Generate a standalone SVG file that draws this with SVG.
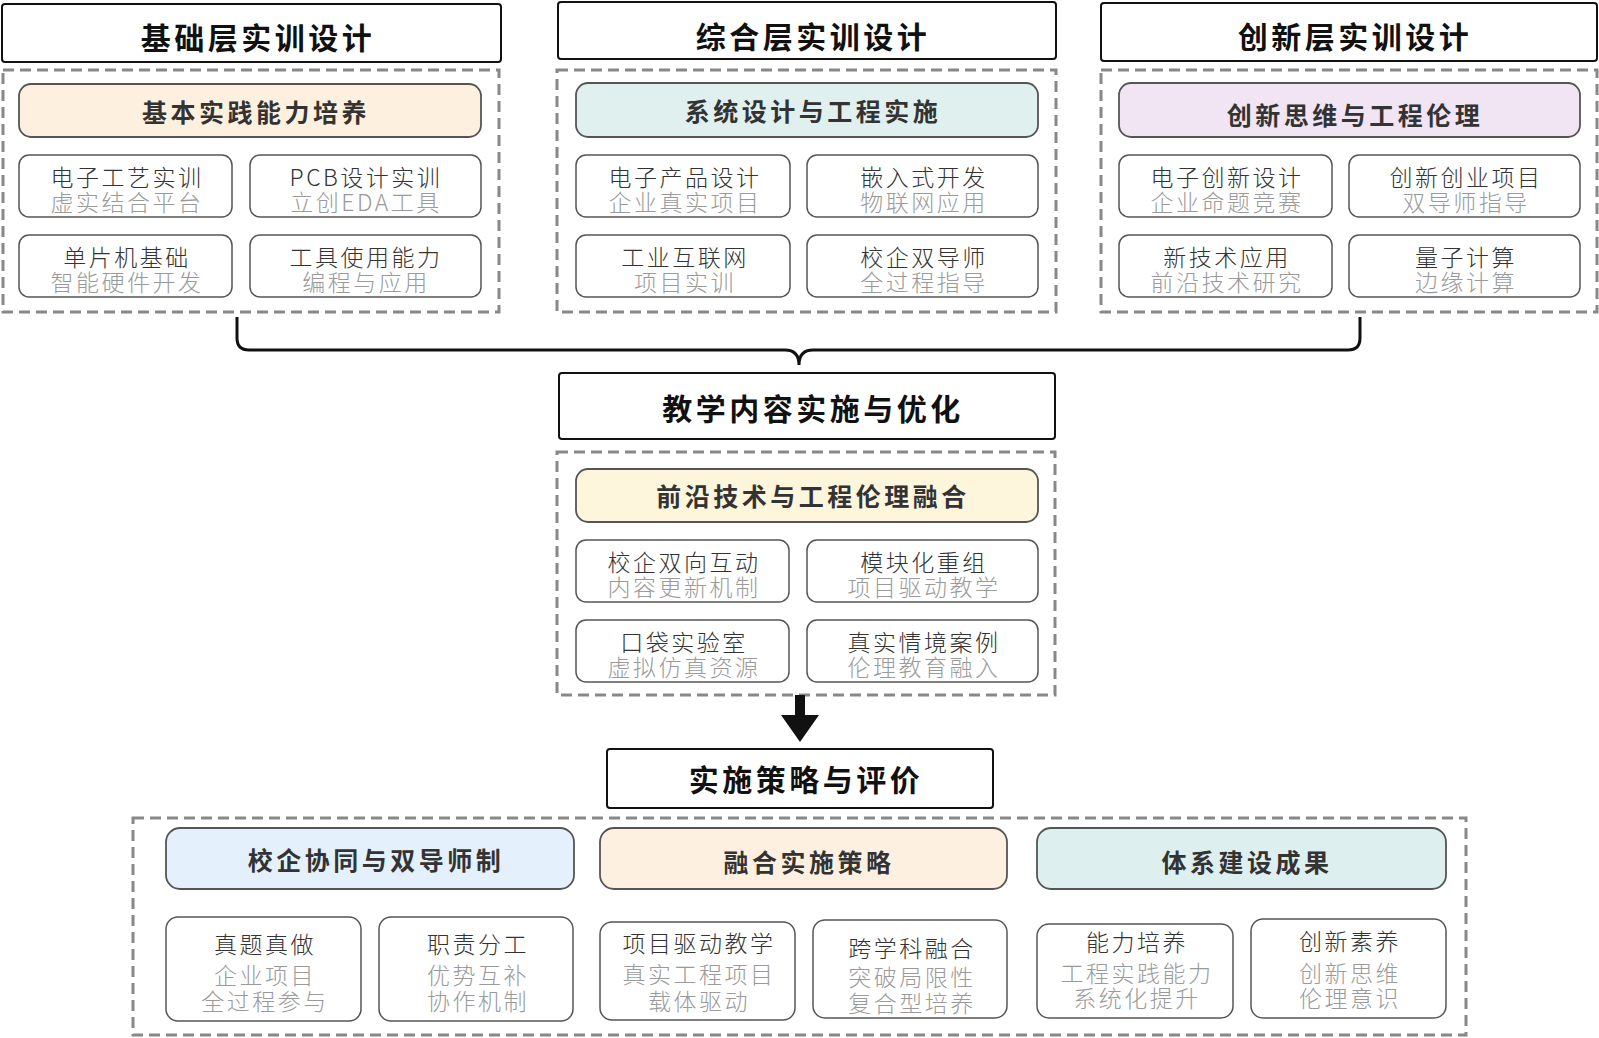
<svg xmlns="http://www.w3.org/2000/svg" width="1599" height="1038" viewBox="0 0 1599 1038">
<style>
text{font-family:"Noto Sans CJK SC","Noto Sans",sans-serif;text-anchor:middle}
.title{fill:#fff;stroke:#111;stroke-width:2}
.dash{fill:none;stroke:#888;stroke-width:3;stroke-dasharray:11 6}
.hdr{stroke:#555;stroke-width:1.8}
.sub{fill:#fff;stroke:#555;stroke-width:1.5}
.tt{font-weight:700;font-size:30px;letter-spacing:3.5px;fill:#111}
.ht{font-weight:700;font-size:25px;letter-spacing:3.5px;fill:#333}
.s1{font-weight:300;font-size:23px;letter-spacing:2.5px;fill:#333}
.s2{font-weight:300;font-size:23px;letter-spacing:2.5px;fill:#9a9a9a}
.conn{fill:none;stroke:#111;stroke-width:3}
</style>
<rect width="1599" height="1038" fill="#fff"/>

<!-- Top-left column -->
<g id="basic-title"><rect class="title" x="2" y="4" width="499" height="58" rx="3"/><text class="tt" x="258" y="49">基础层实训设计</text></g>
<g id="basic-group">
<rect class="dash" x="3" y="70" width="496" height="242"/>
<g id="basic-header"><rect class="hdr" x="19" y="84" width="462" height="53" rx="12" fill="#fdf0df"/><text class="ht" x="256" y="122">基本实践能力培养</text></g>
<g id="b1"><rect class="sub" x="19" y="155" width="213" height="62" rx="10"/><text class="s1" x="127" y="186">电子工艺实训</text><text class="s2" x="127" y="211">虚实结合平台</text></g>
<g id="b2"><rect class="sub" x="250" y="155" width="231" height="62" rx="10"/><text class="s1" x="366" y="186">PCB设计实训</text><text class="s2" x="366" y="211">立创EDA工具</text></g>
<g id="b3"><rect class="sub" x="19" y="235" width="213" height="62" rx="10"/><text class="s1" x="127" y="266">单片机基础</text><text class="s2" x="127" y="291">智能硬件开发</text></g>
<g id="b4"><rect class="sub" x="250" y="235" width="231" height="62" rx="10"/><text class="s1" x="366" y="266">工具使用能力</text><text class="s2" x="366" y="291">编程与应用</text></g>
</g>

<!-- Top-middle column -->
<g id="comp-title"><rect class="title" x="558" y="2" width="498" height="57" rx="3"/><text class="tt" x="813" y="48">综合层实训设计</text></g>
<g id="comp-group">
<rect class="dash" x="557" y="70" width="499" height="242"/>
<g id="comp-header"><rect class="hdr" x="576" y="83" width="462" height="54" rx="12" fill="#dff0ee"/><text class="ht" x="813" y="121">系统设计与工程实施</text></g>
<g id="c1"><rect class="sub" x="576" y="155" width="214" height="62" rx="10"/><text class="s1" x="685" y="186">电子产品设计</text><text class="s2" x="685" y="211">企业真实项目</text></g>
<g id="c2"><rect class="sub" x="807" y="155" width="231" height="62" rx="10"/><text class="s1" x="924" y="186">嵌入式开发</text><text class="s2" x="924" y="211">物联网应用</text></g>
<g id="c3"><rect class="sub" x="576" y="235" width="214" height="62" rx="10"/><text class="s1" x="685" y="266">工业互联网</text><text class="s2" x="685" y="291">项目实训</text></g>
<g id="c4"><rect class="sub" x="807" y="235" width="231" height="62" rx="10"/><text class="s1" x="924" y="266">校企双导师</text><text class="s2" x="924" y="291">全过程指导</text></g>
</g>

<!-- Top-right column -->
<g id="inno-title"><rect class="title" x="1101" y="3" width="496" height="58" rx="3"/><text class="tt" x="1355" y="48">创新层实训设计</text></g>
<g id="inno-group">
<rect class="dash" x="1101" y="70" width="496" height="242"/>
<g id="inno-header"><rect class="hdr" x="1119" y="83" width="461" height="54" rx="12" fill="#f1e4f3"/><text class="ht" x="1355" y="125">创新思维与工程伦理</text></g>
<g id="i1"><rect class="sub" x="1119" y="155" width="213" height="62" rx="10"/><text class="s1" x="1227" y="186">电子创新设计</text><text class="s2" x="1227" y="211">企业命题竞赛</text></g>
<g id="i2"><rect class="sub" x="1349" y="155" width="231" height="62" rx="10"/><text class="s1" x="1466" y="186">创新创业项目</text><text class="s2" x="1466" y="211">双导师指导</text></g>
<g id="i3"><rect class="sub" x="1119" y="235" width="213" height="62" rx="10"/><text class="s1" x="1227" y="266">新技术应用</text><text class="s2" x="1227" y="291">前沿技术研究</text></g>
<g id="i4"><rect class="sub" x="1349" y="235" width="231" height="62" rx="10"/><text class="s1" x="1466" y="266">量子计算</text><text class="s2" x="1466" y="291">边缘计算</text></g>
</g>

<!-- Middle -->
<g id="impl-title"><rect class="title" x="559" y="373" width="496" height="66" rx="3"/><text class="tt" x="813" y="420">教学内容实施与优化</text></g>
<g id="impl-group">
<rect class="dash" x="557" y="452" width="498" height="243"/>
<g id="impl-header"><rect class="hdr" x="576" y="469" width="462" height="53" rx="12" fill="#fdf5dc"/><text class="ht" x="813" y="506">前沿技术与工程伦理融合</text></g>
<g id="m1"><rect class="sub" x="576" y="540" width="213" height="62" rx="10"/><text class="s1" x="684" y="571">校企双向互动</text><text class="s2" x="684" y="596">内容更新机制</text></g>
<g id="m2"><rect class="sub" x="807" y="540" width="231" height="62" rx="10"/><text class="s1" x="924" y="571">模块化重组</text><text class="s2" x="924" y="596">项目驱动教学</text></g>
<g id="m3"><rect class="sub" x="576" y="620" width="213" height="62" rx="10"/><text class="s1" x="684" y="651">口袋实验室</text><text class="s2" x="684" y="676">虚拟仿真资源</text></g>
<g id="m4"><rect class="sub" x="807" y="620" width="231" height="62" rx="10"/><text class="s1" x="924" y="651">真实情境案例</text><text class="s2" x="924" y="676">伦理教育融入</text></g>
</g>

<!-- Bottom -->
<g id="strat-title"><rect class="title" x="607" y="749" width="386" height="59" rx="3"/><text class="tt" x="806" y="791">实施策略与评价</text></g>
<g id="strat-group">
<rect class="dash" x="133" y="818" width="1333" height="217"/>
<g id="h-coop"><rect class="hdr" x="166" y="828" width="408" height="61" rx="14" fill="#e4f0fb"/><text class="ht" x="376" y="870">校企协同与双导师制</text></g>
<g id="h-fuse"><rect class="hdr" x="600" y="828" width="407" height="61" rx="14" fill="#fdf0e0"/><text class="ht" x="809" y="872">融合实施策略</text></g>
<g id="h-result"><rect class="hdr" x="1037" y="828" width="409" height="61" rx="14" fill="#ddefef"/><text class="ht" x="1247" y="872">体系建设成果</text></g>
<g id="p1"><rect class="sub" x="166" y="917" width="195" height="104" rx="12"/><text class="s1" x="265" y="953">真题真做</text><text class="s2" x="265" y="984">企业项目</text><text class="s2" x="265" y="1010">全过程参与</text></g>
<g id="p2"><rect class="sub" x="379" y="917" width="194" height="104" rx="12"/><text class="s1" x="478" y="953">职责分工</text><text class="s2" x="478" y="984">优势互补</text><text class="s2" x="478" y="1010">协作机制</text></g>
<g id="p3"><rect class="sub" x="600" y="922" width="195" height="98" rx="12"/><text class="s1" x="699" y="952">项目驱动教学</text><text class="s2" x="699" y="983">真实工程项目</text><text class="s2" x="699" y="1010">载体驱动</text></g>
<g id="p4"><rect class="sub" x="813" y="920" width="194" height="98" rx="12"/><text class="s1" x="912" y="957">跨学科融合</text><text class="s2" x="912" y="986">突破局限性</text><text class="s2" x="912" y="1012">复合型培养</text></g>
<g id="p5"><rect class="sub" x="1037" y="924" width="196" height="94" rx="12"/><text class="s1" x="1137" y="951">能力培养</text><text class="s2" x="1137" y="982">工程实践能力</text><text class="s2" x="1137" y="1007">系统化提升</text></g>
<g id="p6"><rect class="sub" x="1251" y="919" width="195" height="99" rx="12"/><text class="s1" x="1350" y="950">创新素养</text><text class="s2" x="1350" y="982">创新思维</text><text class="s2" x="1350" y="1007">伦理意识</text></g>
</g>

<!-- Connectors -->
<g id="connectors">
<path class="conn" d="M237 317 L237 338 Q237 350 249 350 L785 350 Q799 350 799 365 Q799 350 813 350 L1348 350 Q1360 350 1360 338 L1360 317"/>
<rect x="795" y="695" width="10" height="22" fill="#111"/>
<polygon points="781,715 819,715 800,742" fill="#111"/>
</g>
</svg>
